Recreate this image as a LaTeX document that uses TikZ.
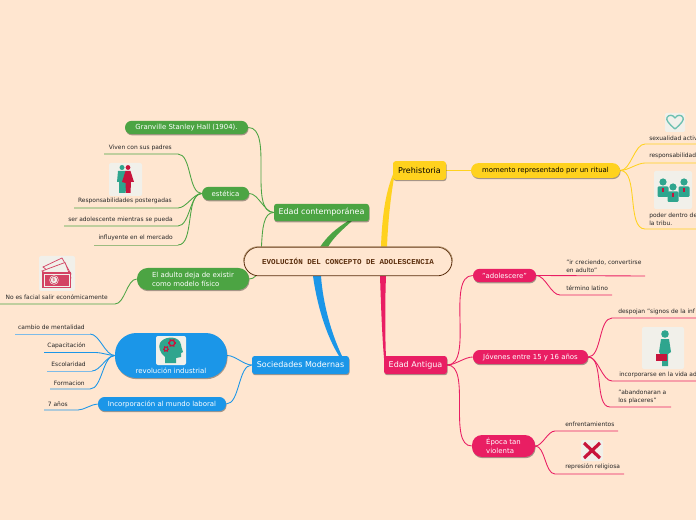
\documentclass[tikz,border=0pt]{standalone}
\usepackage{fontspec}
\setmainfont{DejaVu Sans}
\newfontfamily\monob[Scale=1]{Liberation Mono}
\usetikzlibrary{shadows,calc}
\definecolor{bgc}{HTML}{FFE6D0}
\definecolor{grn}{HTML}{4CA443}
\definecolor{yel}{HTML}{FFD21E}
\definecolor{pnk}{HTML}{E91E63}
\definecolor{blu}{HTML}{1B96E8}
\definecolor{teal1}{HTML}{2FA58E}
\definecolor{crim}{HTML}{C8143C}
\definecolor{tile}{HTML}{F1F0EA}
\definecolor{lgrn}{HTML}{9DBB80}
\definecolor{lblu}{HTML}{7DBBE8}
\definecolor{cbrd}{HTML}{5A2D0C}
\definecolor{ctop}{HTML}{A58560}
\pgfdeclarelayer{back}\pgfdeclarelayer{links}
\pgfsetlayers{back,links,main}
\tikzset{
 x=0.75pt,y=-0.75pt,
 topic/.style={rounded corners=#1,inner sep=0pt,align=left,text=white,
   drop shadow={shadow xshift=0.4pt,shadow yshift=-0.9pt,opacity=.35,fill=black}},
 big/.style={font=\fontsize{6pt}{8pt}\selectfont},
 mid/.style={font=\fontsize{5.2pt}{6.8pt}\selectfont},
 leafL/.style={anchor=west,inner sep=0pt,align=left,text=black!85,font=\fontsize{4.45pt}{6pt}\selectfont},
 leafR/.style={anchor=east,inner sep=0pt,align=right,text=black!85,font=\fontsize{4.45pt}{6pt}\selectfont},
 lnk/.style={draw=#1,line width=0.65pt},
 tap/.style={fill=#1,draw=none},
 cv/.style={out=0,in=180,looseness=.75},
 cvl/.style={out=180,in=0,looseness=.75},
}
\begin{document}
\begin{tikzpicture}
\useasboundingbox (0,0) rectangle (696,520);
\begin{pgfonlayer}{back}
\fill[bgc] (0,0) rectangle (696,520);
\end{pgfonlayer}

% central
\node[draw=cbrd,line width=0.6pt,fill=bgc,rounded corners=11pt,minimum width=156pt,minimum height=21.5pt,inner sep=0pt,
  font=\monob\bfseries\fontsize{5.65pt}{6pt}\selectfont,text=cbrd] (c) at (348,261.5) {EVOLUCIÓN DEL CONCEPTO DE ADOLESCENCIA};
\draw[ctop,line width=0.6pt,rounded corners=10.8pt] (c.west) |- (c.north) -| (c.east);

% main topics
\node[topic=2pt,fill=yel,text=black,big,minimum width=39.75pt,minimum height=14pt] (pre) at (419.5,170.5) {Prehistoria};
\node[topic=2pt,fill=pnk,big,minimum width=47.25pt,minimum height=13.5pt] (ant) at (415.5,365) {Edad Antigua};
\node[topic=2pt,fill=grn,big,minimum width=71.25pt,minimum height=13pt] (con) at (321.5,212.5) {Edad contemporánea};
\node[topic=2pt,fill=blu,big,minimum width=72.75pt,minimum height=13.5pt] (soc) at (300.5,365) {Sociedades Modernas};

% sub topics
\node[topic=5.5pt,fill=yel,text=black,mid,minimum width=111.75pt,minimum height=11pt] (mom) at (545.5,170.5) {momento representado por un ritual};
\node[topic=5pt,fill=pnk,mid,minimum width=47.25pt,minimum height=10pt] (ado) at (504.5,275.5) {"adolescere"};
\node[topic=5pt,fill=pnk,mid,minimum width=86.25pt,minimum height=10.5pt] (jov) at (530.5,357) {Jóvenes entre 15 y 16 años};
\node[topic=7.5pt,fill=pnk,mid,minimum width=47.25pt,minimum height=16.5pt] (epo) at (503.5,446) {Época tan\\violenta};
\node[topic=5pt,fill=grn,mid,minimum width=92.25pt,minimum height=10pt] (gra) at (186.5,127.5) {Granville Stanley Hall (1904).};
\node[topic=5pt,fill=grn,mid,minimum width=35.25pt,minimum height=10pt] (est) at (225.5,193.5) {estética};
\node[topic=8pt,fill=grn,mid,minimum width=84pt,minimum height=16.5pt] (adu) at (193,279) {El adulto deja de existir\\como modelo físico};
\node[topic=16pt,fill=blu,minimum width=84pt,minimum height=33.75pt] (rev) at (171,355.5) {};
\node[inner sep=0pt,text=white,mid] (revt) at (171,371) {revolución industrial};
\node[topic=5pt,fill=blu,mid,minimum width=96pt,minimum height=10.5pt] (inc) at (162,404) {Incorporación al mundo laboral};

% leaves right
\node[leafL] (l1) at (649,138) {sexualidad activ};
\node[leafL] (l2) at (649,156) {responsabilidad};
\node[leafL] (l3) at (649,219) {poder dentro de\\la tribu.};
\node[leafL] (l4) at (566,266) {"ir creciendo, convertirse\\en adulto"};
\node[leafL] (l5) at (566,288) {término latino};
\node[leafL] (l6) at (618,312) {despojan "signos de la inf};
\node[leafL] (l7) at (619,375) {incorporarse en la vida ad};
\node[leafL] (l8) at (618,397) {"abandonaran a\\los placeres"};
\node[leafL] (l9) at (565,424) {enfrentamientos};
\node[leafL] (l10) at (565,467) {represión religiosa};
% leaves left
\node[leafR] (r1) at (172,148) {Viven con sus padres};
\node[leafR] (r2) at (172,201) {Responsabilidades postergadas};
\node[leafR] (r3) at (173,220) {ser adolescente mientras se pueda};
\node[leafR] (r4) at (173,238) {influyente en el mercado};
\node[leafR] (r5) at (108,297) {No es facial salir económicamente};
\node[leafR] (b1) at (85,327) {cambio de mentalidad};
\node[leafR] (b2) at (86,346) {Capacitación};
\node[leafR] (b3) at (86,364) {Escolaridad};
\node[leafR] (b4) at (85,383) {Formacion};
\node[leafR] (b5) at (68,404) {7 años};

% free ends of the underlines
\foreach \n/\x/\y in {a1/645/144,a2/696/144,a3/645/163,a4/696/163,a5/645/229,a6/696/229,
 a7/645/276,a8/560/295,a9/612/295,a10/612/318,a11/696/318,a12/612/381,a13/696/381,a14/610/407,a15/671/407,
 a16/555/431,a17/618/431,a18/555/474,a19/624/474,
 g1/178/154,g2/104/154,g3/178/208,g4/74/208,g5/178/226,g6/64/226,g7/178/245,g8/94/245,g9/115/304,g10/0/304,
 u1/90/334,u2/15/334,u3/96/352.5,u4/44/352.5,u5/92/371,u6/47/371,u7/90/389,u8/50/389,u9/78/410,u10/44/410,
 ga/320/247,gb/348/221,gc/352/221,gd/328/247,
 ya/381/247,yb/394/172,yc/394/178,yd/387/247,
 pa/380/276,pb/384/358,pc/386/358,pd/386/276,
 ba/313/276,bb/339/356,bc/342/356,bd/321/276}
 {\global\expandafter\let\csname dummy\endcsname\relax\coordinate (\n) at (\x,\y);}

\begin{pgfonlayer}{links}
% tapered main branches
\fill[tap=grn] (ga) .. controls (328,235) and (337,228) .. (gb) -- (gc) .. controls (342,230) and (333,238) .. (gd) -- cycle;
\fill[tap=yel] (ya) .. controls (382,215) and (386,190) .. (yb) -- (yc) .. controls (391,195) and (388,220) .. (yd) -- cycle;
\fill[tap=pnk] (pa) .. controls (381,305) and (382,335) .. (pb) -- (pc) .. controls (385,335) and (385,300) .. (pd) -- cycle;
\fill[tap=blu] (ba) .. controls (317,305) and (326,335) .. (bb) -- (bc) .. controls (332,335) and (323,305) .. (bd) -- cycle;
% yellow
\draw[lnk=yel] (pre.east) -- (mom.west);
\draw[lnk=yel] (mom.east) to[cv] (a1) -- (a2);
\draw[lnk=yel] (mom.east) to[cv] (a3) -- (a4);
\draw[lnk=yel] (mom.east) to[cv] (a5) -- (a6);
% pink
\draw[lnk=pnk] (ant.east) to[cv] (ado.west);
\draw[lnk=pnk] (ant.east) to[cv] (jov.west);
\draw[lnk=pnk] (ant.east) to[cv] (epo.west);
\draw[lnk=pnk] (ado.east) -- (a7);
\draw[lnk=pnk] (ado.east) to[cv] (a8) -- (a9);
\draw[lnk=pnk] (jov.east) to[cv] (a10) -- (a11);
\draw[lnk=pnk] (jov.east) to[cv] (a12) -- (a13);
\draw[lnk=pnk] (jov.east) to[cv] (a14) -- (a15);
\draw[lnk=pnk] (epo.east) to[cv] (a16) -- (a17);
\draw[lnk=pnk] (epo.east) to[cv] (a18) -- (a19);
% green
\draw[lnk=grn] (con.west) to[cvl] (gra.east);
\draw[lnk=grn] (con.west) to[cvl] (est.east);
\draw[lnk=grn] (con.west) to[cvl] (adu.east);
\draw[lnk=grn] (est.west) to[cvl] (g1) -- (g2);
\draw[lnk=grn] (est.west) to[cvl] (g3) -- (g4);
\draw[lnk=grn] (est.west) to[cvl] (g5) -- (g6);
\draw[lnk=grn] (est.west) to[cvl] (g7);
\draw[lnk=lgrn] (g7) -- (g8);
\draw[lnk=grn] (adu.west) to[cvl] (g9) -- (g10);
% blue
\draw[lnk=blu] (soc.west) to[cvl] (rev.east);
\draw[lnk=blu] (soc.west) to[cvl] (inc.east);
\draw[lnk=blu] (rev.west) to[cvl] (u1);
\draw[lnk=lblu] (u1) -- (u2);
\draw[lnk=blu] (rev.west) to[cvl] (u3) -- (u4);
\draw[lnk=blu] (rev.west) to[cvl] (u5);
\draw[lnk=lblu] (u5) -- (u6);
\draw[lnk=blu] (rev.west) to[cvl] (u7) -- (u8);
\draw[lnk=blu] (inc.west) to[cvl] (u9) -- (u10);
\end{pgfonlayer}

% ICONS
% heart
\fill[tile,rounded corners=1pt] (665,113) rectangle (685,132);
\draw[teal1!70!white,line width=1pt,line join=round] (675,129) .. controls (668,123) and (666,120) .. (667,117.5) .. controls (668.5,114.5) and (673,114.5) .. (675,118) .. controls (677,114.5) and (681.5,114.5) .. (683,117.5) .. controls (684,120) and (682,123) .. (675,129) -- cycle;
% three people
\fill[tile,rounded corners=1.5pt] (654,171) rectangle (692,209);
\foreach \x/\y in {663/182,684/182,673/187}{
 \fill[teal1] (\x,\y) circle (3.6);
 \fill[teal1,rounded corners=0.8pt] (\x-5.5,\y+4.5) rectangle (\x+5.5,\y+15);
 \fill[crim] (\x-0.6,\y+6) rectangle (\x+0.6,\y+10);
}
% couple
\fill[tile,rounded corners=1.5pt] (109,163) rectangle (142,196);
\fill[teal1] (122,167.5) circle (2.5);
\fill[teal1] (118,171) -- (126,171) -- (127,182) -- (125.5,193) -- (119,193) -- (119,182) -- (117,182) -- cycle;
\fill[crim] (128,167.5) circle (2.4);
\fill[crim] (125.5,171) -- (130.5,171) -- (134,182) -- (131,182) -- (130.5,193) -- (126,193) -- (125.5,183) -- (122,182) -- cycle;
% money
\fill[tile,rounded corners=1.5pt] (39,256) rectangle (75,291);
\begin{scope}[draw=crim!80!white,line width=0.55pt]
\draw[fill=tile] (43,267) -- (62,258) -- (71,274) -- (60,280) -- cycle;
\draw[fill=tile] (42,271) -- (65,262.5) -- (71,278) -- (60,284) -- cycle;
\fill[crim!80!white] (41.5,272) rectangle (71,288);
\draw[tile,line width=0.4pt] (44,274) rectangle (69,286);
\fill[tile] (54,280) circle (4.7);
\draw[crim!80!white,line width=0.4pt] (54,280) circle (3.7);
\end{scope}
\node[inner sep=0pt,text=crim!80!white,font=\fontsize{3.6pt}{4pt}\selectfont] (dollar) at (54,280) {\$};
% brain head
\fill[tile,rounded corners=1.5pt] (156,336) rectangle (186,365);
\fill[teal1] (165,363) -- (165,357) .. controls (160,353) and (158,347) .. (160,343) .. controls (163,337) and (176,335) .. (180,342) .. controls (182,346) and (181,349) .. (183,352) -- (181,353) -- (181,357) -- (176,358) -- (176,363) -- cycle;
\draw[crim,line width=1pt] (172,343) circle (2.8);
\draw[crim,line width=0.8pt] (166,349) circle (2);
\foreach \a in {0,60,...,300}{\draw[crim,line width=0.8pt] ($(172,343)+(\a:2.8)$) -- ($(172,343)+(\a:4.3)$);\draw[crim,line width=0.5pt] ($(166,349)+(\a:2)$) -- ($(166,349)+(\a:3.2)$);}
% businessman
\fill[tile,rounded corners=1.5pt] (642,327) rectangle (684,369);
\fill[teal1] (665,334) circle (3.8);
\fill[teal1] (661,339) -- (669,339) -- (671,352) -- (668,354) -- (668,366) -- (662,366) -- (662,358) -- (659,352) -- cycle;
\fill[crim] (656,354) rectangle (667,361);
% cross
\fill[tile,rounded corners=1.5pt] (581,440) rectangle (603,461);
\draw[crim,line width=2.4pt] (584,443) -- (600,458) (600,443) -- (584,458);
\end{tikzpicture}
\end{document}
